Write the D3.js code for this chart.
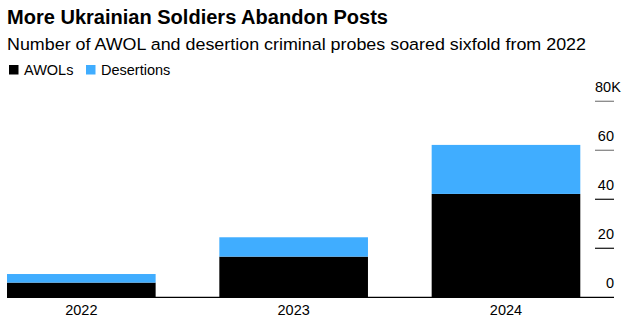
<!DOCTYPE html>
<html>
<head>
<meta charset="utf-8">
<script src="https://cdn.jsdelivr.net/npm/d3@7"></script>
<style>
  html, body { margin: 0; padding: 0; background: #fff; }
  svg { display: block; font-family: "Liberation Sans", Arial, Helvetica, sans-serif; }
</style>
</head>
<body>
<svg id="chart" width="632" height="323"></svg>
<script>
const years = ["2022", "2023", "2024"];
const awols = [6.0, 16.6, 42.2];
const desertions = [3.5, 7.9, 20.0];
const seriesNames = ["AWOLs", "Desertions"];
const seriesColors = ["#000000", "#40adff"];
const yTicks = [0, 20, 40, 60, 80];
const yTickLabels = ["0", "20", "40", "60", "80K"];

const svg = d3.select("#chart");

// Title & subtitle
svg.append("text").attr("x", 7).attr("y", 24)
  .attr("font-size", 19.5).attr("font-weight", "bold").attr("fill", "#000")
  .attr("textLength", 381).attr("lengthAdjust", "spacingAndGlyphs")
  .text("More Ukrainian Soldiers Abandon Posts");
svg.append("text").attr("x", 7).attr("y", 50)
  .attr("font-size", 17.2).attr("fill", "#000")
  .attr("textLength", 579).attr("lengthAdjust", "spacingAndGlyphs")
  .text("Number of AWOL and desertion criminal probes soared sixfold from 2022");

// Legend
const legend = svg.append("g");
const legendX = [9, 86];
seriesNames.forEach((name, i) => {
  legend.append("rect").attr("x", legendX[i]).attr("y", 65).attr("width", 9.5).attr("height", 9.5)
    .attr("fill", seriesColors[i]);
  legend.append("text").attr("x", legendX[i] + 15).attr("y", 75)
    .attr("font-size", 14.5).attr("fill", "#000").text(name);
});

// Scales
const x = d3.scaleBand().domain(years).range([7, 580.3]).paddingInner(0.3).paddingOuter(0);
const y = d3.scaleLinear().domain([0, 80]).range([297.3, 101.3]);

// Stack
const rows = years.map((yr, i) => ({ year: yr, AWOLs: awols[i], Desertions: desertions[i] }));
const stack = d3.stack().keys(seriesNames)(rows);

svg.append("g").selectAll("g").data(stack).join("g")
  .attr("fill", (d, i) => seriesColors[i])
  .selectAll("rect").data(d => d).join("rect")
  .attr("x", d => x(d.data.year))
  .attr("width", x.bandwidth())
  .attr("y", d => y(d[1]))
  .attr("height", d => y(d[0]) - y(d[1]));

// Y axis ticks on the right (short tick marks with labels above)
const yAxis = svg.append("g");
yTicks.forEach((t, i) => {
  if (t !== 0) {
    yAxis.append("line").attr("x1", 595).attr("x2", 614)
      .attr("y1", y(t)).attr("y2", y(t))
      .attr("stroke", t >= 60 ? "#888" : "#222").attr("stroke-width", 1.3);
  }
  const lbl = yAxis.append("text").attr("y", y(t) - 9).attr("font-size", 14.5).attr("fill", "#000");
  if (yTickLabels[i].endsWith("K")) {
    lbl.attr("x", 595).attr("text-anchor", "start").text(yTickLabels[i]);
  } else {
    lbl.attr("x", 614).attr("text-anchor", "end").text(yTickLabels[i]);
  }
});

// Baseline
svg.append("line").attr("x1", 7).attr("x2", 614)
  .attr("y1", y(0)).attr("y2", y(0)).attr("stroke", "#000").attr("stroke-width", 1.2);

// X axis labels
const xAxis = svg.append("g").attr("transform", `translate(0,${y(0)})`)
  .call(d3.axisBottom(x).tickSize(0).tickPadding(0));
xAxis.select(".domain").remove();
xAxis.selectAll("text").attr("font-size", 14.5).attr("fill", "#000")
  .attr("font-family", "Liberation Sans, Arial, sans-serif")
  .attr("dy", null).attr("y", 17.5);
</script>
</body>
</html>
